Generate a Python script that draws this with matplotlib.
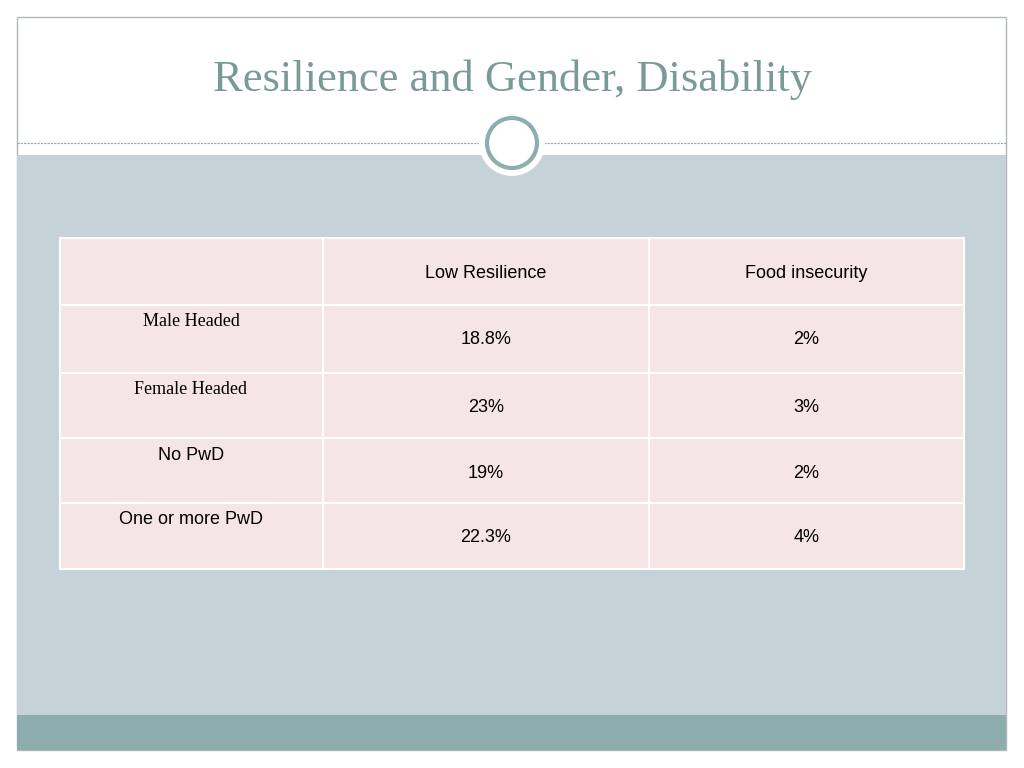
import matplotlib
matplotlib.use("Agg")
import matplotlib.pyplot as plt
from matplotlib.patches import Rectangle, Circle

title = "Resilience and Gender, Disability"
columns = ["Low Resilience", "Food insecurity"]
rows = ["Male Headed", "Female Headed", "No PwD", "One or more PwD"]
row_fonts = ["Liberation Serif", "Liberation Serif", "Liberation Sans", "Liberation Sans"]
low_resilience = ["18.8%", "23%", "19%", "22.3%"]
food_insecurity = ["2%", "3%", "2%", "4%"]

fig = plt.figure(figsize=(10.24, 7.68), dpi=100)
ax = fig.add_axes([0, 0, 1, 1])
ax.set_xlim(0, 1024); ax.set_ylim(768, 0); ax.axis("off")

ax.add_patch(Rectangle((17, 17), 989, 733, facecolor="white", edgecolor="#b0b8bb", lw=1))
ax.add_patch(Rectangle((17, 155), 989, 560, facecolor="#c5d3d8", edgecolor="none"))
ax.add_patch(Rectangle((17, 715), 989, 35, facecolor="#8eadae", edgecolor="none"))
ax.plot([17, 1006], [143, 143], ls=(0, (2, 1)), color="#9aa6a8", lw=0.8)
ax.add_patch(Circle((512, 143), 33, facecolor="white", edgecolor="none", zorder=3))
ax.add_patch(Circle((512, 143), 25, facecolor="white", edgecolor="#8eadae", lw=3, zorder=4))
ax.text(512, 80, title, fontsize=32, family="Liberation Serif", color="#7a9a98", ha="center", va="center")

xs = [60, 323, 649, 964]
ys = [238, 305, 373, 438, 503, 569]
for i in range(5):
    for j in range(3):
        ax.add_patch(Rectangle((xs[j], ys[i]), xs[j+1]-xs[j], ys[i+1]-ys[i],
                               facecolor="#f5e5e5", edgecolor="white", lw=1.5))
for j, c in enumerate(columns):
    ax.text((xs[j+1]+xs[j+2])/2, 273, c, fontsize=13, family="Liberation Sans", ha="center", va="center")
for i, r in enumerate(rows):
    ax.text(191, ys[i+1]+17, r, fontsize=13, family=row_fonts[i], ha="center", va="center")
    ax.text((xs[1]+xs[2])/2, ys[i+1]+35, low_resilience[i], fontsize=13, family="Liberation Sans", ha="center", va="center")
    ax.text((xs[2]+xs[3])/2, ys[i+1]+35, food_insecurity[i], fontsize=13, family="Liberation Sans", ha="center", va="center")

fig.savefig("out.png", dpi=100)
